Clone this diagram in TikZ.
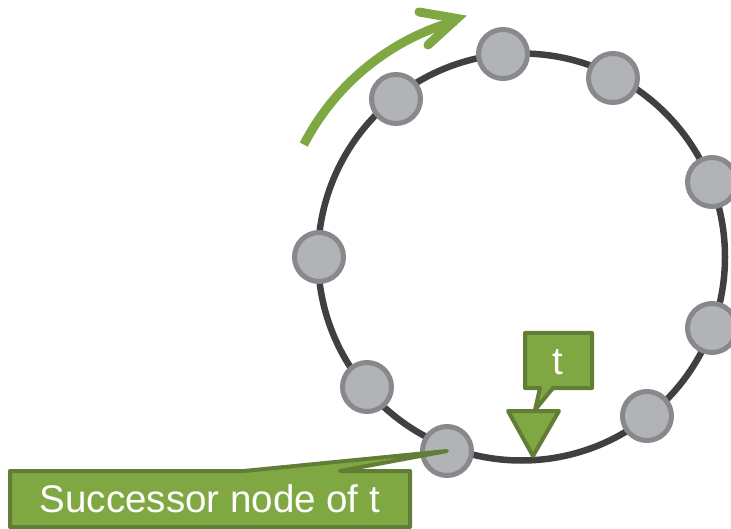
\documentclass[tikz,border=0pt]{standalone}
\usepackage{fontspec}
\setmainfont{Liberation Sans}
\definecolor{gfill}{RGB}{127,168,66}
\definecolor{gline}{RGB}{98,126,54}
\definecolor{nfill}{RGB}{178,179,183}
\definecolor{nline}{RGB}{136,137,141}
\definecolor{ring}{RGB}{64,64,66}
\begin{document}
\begin{tikzpicture}[x=1pt,y=-1pt,
  gnode/.style={circle,draw=nline,fill=nfill,line width=5pt,minimum size=49pt,inner sep=0pt},
  callout/.style={draw=gline,fill=gfill,line width=4pt,line join=round},
  ctext/.style={text=white,font=\fontsize{38.5}{42}\selectfont,anchor=base,inner sep=0pt},
  garrow/.style={draw=gfill,line width=9pt}]
\useasboundingbox (0,0) rectangle (731,529);
% ring
\draw[ring,line width=6.5pt] (521.5,257) circle[radius=203.5];
% nodes
\node[gnode] (n1) at (503,54) {};
\node[gnode] (n2) at (613,78) {};
\node[gnode] (n3) at (712,182) {};
\node[gnode] (n4) at (712,328) {};
\node[gnode] (n5) at (647,416) {};
\node[gnode] (n6) at (447,451) {};
\node[gnode] (n7) at (367,387) {};
\node[gnode] (n8) at (319,257) {};
\node[gnode] (n9) at (396,99) {};
% green direction arrow
\draw[garrow] (303.8,144.6) arc[start angle=-152.7,end angle=-105.5,radius=245];
\draw[garrow,line join=miter,line cap=round] (419,12) -- (457,18.5) -- (428,45);
% t callout and triangle
\coordinate (tptr) at (535,410);
\draw[callout] (525,333) -- (592,333) -- (592,388) -- (553,388) -- (tptr) -- (540,388) -- (525,388) -- cycle;
\node[ctext] (tlabel) at (558,374) {t};
\coordinate (tri) at (533,456);
\draw[callout] (508,411) -- (559,411) -- (tri) -- cycle;
% successor callout
\draw[callout] (10,471) -- (244,471) -- (n6.center) -- (340,471) -- (410,471) -- (410,527) -- (10,527) -- cycle;
\node[ctext] (slabel) at (210,512) {Successor node of t};
\end{tikzpicture}
\end{document}
